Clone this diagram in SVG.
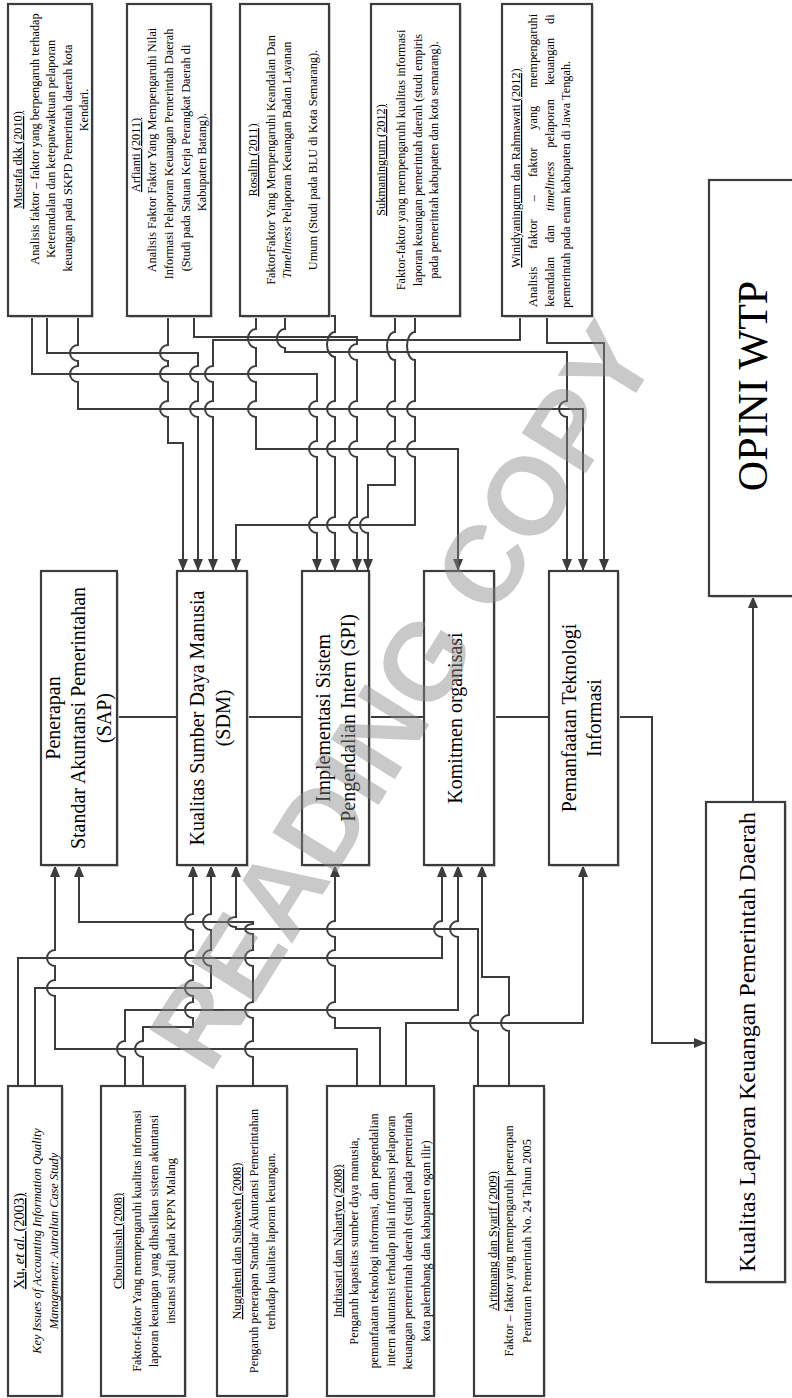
<svg xmlns="http://www.w3.org/2000/svg" width="792" height="1398" viewBox="0 0 792 1398">
<defs>
<marker id="arr" markerUnits="userSpaceOnUse" markerWidth="12" markerHeight="10" refX="12" refY="5" orient="auto">
<path d="M0,0 L12,5 L0,10 z" fill="#3c3c3c"/>
</marker>
</defs>
<style>
.box{fill:#fff;stroke:#3c3c3c;stroke-width:2.2}
.sh{fill:#d6d6d6}
.ln{fill:none;stroke:#3c3c3c;stroke-width:2;marker-end:url(#arr)}
.pl{fill:none;stroke:#3c3c3c;stroke-width:2}
text{font-family:"Liberation Serif","Times New Roman",serif;fill:#000}
.s{font-size:12.3px}
.t{font-size:12.3px;text-decoration:underline}
.m{font-size:20px}
.wm{font-family:"Liberation Sans",Arial,sans-serif;font-weight:bold;font-size:110px;fill:#888;opacity:0.45}
</style>
<rect width="792" height="1398" fill="#fff"/>

<g id="connectors">
<path class="ln" d="M32 316 V374 H317 V401 a8 8 0 0 0 0 16 V441 a8 8 0 0 0 0 16 V517 a8 8 0 0 0 0 16 V571"/>
<path class="ln" d="M47 316 V353 H198 V366 a8 8 0 0 0 0 16 V401 a8 8 0 0 0 0 16 V571"/>
<path class="ln" d="M78 316 V345 a8 8 0 0 0 0 16 V366 a8 8 0 0 0 0 16 V409 H583 V571"/>
<path class="ln" d="M168 316 V345 a8 8 0 0 0 0 16 V366 a8 8 0 0 0 0 16 V401 a8 8 0 0 0 0 16 V443 H183 V571"/>
<path class="ln" d="M194 316 V337 H357 V344 a8 8 0 0 0 0 16 V401 a8 8 0 0 0 0 16 V441 a8 8 0 0 0 0 16 V517 a8 8 0 0 0 0 16 V571"/>
<path class="ln" d="M520 316 V340 H213 V366 a8 8 0 0 0 0 16 V401 a8 8 0 0 0 0 16 V571"/>
<path class="ln" d="M547 316 V343 H604 V571"/>
<path class="ln" d="M256 316 V329 a8 9.5 0 0 0 0 19 V366 a8 8 0 0 0 0 16 V401 a8 8 0 0 0 0 16 V449 H458 V571"/>
<path class="ln" d="M285 316 V329 a8 9.5 0 0 0 0 19 V352 H567 V401 a8 8 0 0 0 0 16 V571"/>
<path class="ln" d="M329 316 H335 V332 a8 12.5 0 0 0 0 25 V401 a8 8 0 0 0 0 16 V441 a8 8 0 0 0 0 16 V517 a8 8 0 0 0 0 16 V571"/>
<path class="ln" d="M395 316 V332 a8 14 0 0 0 0 28 V401 a8 8 0 0 0 0 16 V441 a8 8 0 0 0 0 16 V485 H368 V517 a8 8 0 0 0 0 16 V571"/>
<path class="ln" d="M415 316 V332 a8 14 0 0 0 0 28 V401 a8 8 0 0 0 0 16 V441 a8 8 0 0 0 0 16 V525 H236 V571"/>

<path class="ln" d="M18 1086 V958 H442 V937 a8 8 0 0 1 0 -16 V865"/>
<path class="ln" d="M35 1086 V988 H211 V966 a8 8 0 0 1 0 -16 V930 a8 8 0 0 1 0 -16 V865"/>
<path class="ln" d="M125 1086 V1057 a8 8 0 0 1 0 -16 V1010 H458 V937 a8 8 0 0 1 0 -16 V865"/>
<path class="ln" d="M143 1086 V1057 a8 8 0 0 1 0 -16 V1027 H193 V1018 a8 8 0 0 1 0 -16 V996 a8 8 0 0 1 0 -16 V966 a8 8 0 0 1 0 -16 V930 a8 8 0 0 1 0 -16 V865"/>
<path class="ln" d="M253 1086 V1057 a8 8 0 0 1 0 -16 V1018 a8 8 0 0 1 0 -16 V966 a8 8 0 0 1 0 -16 V934 a8 5 0 0 1 0 -10 V922 H79 V865"/>
<path class="ln" d="M357 1086 V1049 H55 V996 a8 8 0 0 1 0 -16 V966 a8 8 0 0 1 0 -16 V865"/>
<path class="ln" d="M380 1086 V1028 H335 V1018 a8 8 0 0 1 0 -16 V966 a8 8 0 0 1 0 -16 V937 a8 8 0 0 1 0 -16 V865"/>
<path class="ln" d="M406 1086 V1023 H583 V865"/>
<path class="ln" d="M478 1086 V1031 a8 8 0 0 1 0 -16 V929 H236 V927 a8 5 0 0 1 0 -10 V865"/>
<path class="ln" d="M509 1086 V1031 a8 8 0 0 1 0 -16 V977 H482 V865"/>

<path class="pl" d="M117 717 H177 M247 717 H302 M369 717 H424 M494 717 H549"/>
<path class="ln" d="M618 717 H652 V1043 H706"/>
<path class="ln" d="M753 802 V596"/>
</g>

<g id="n-mustafa">
<rect class="sh" x="10" y="6" width="84" height="312"/>
<rect class="box" x="8" y="4" width="84" height="312"/>
<g transform="rotate(-90)">
<text class="t" x="-160" y="22" text-anchor="middle">Mustafa dkk (2010)</text>
<text class="s" x="-139" y="39" text-anchor="middle">Analisis faktor – faktor yang berpengaruh terhadap</text>
<text class="s" x="-149" y="55" text-anchor="middle">Keterandalan dan ketepatwaktuan pelaporan</text>
<text class="s" x="-158" y="72" text-anchor="middle">keuangan pada SKPD Pemerintah daerah kota</text>
<text class="s" x="-110" y="88" text-anchor="middle">Kendari.</text>
</g>
</g>

<g id="n-arfianti">
<rect class="sh" x="129" y="6" width="84" height="312"/>
<rect class="box" x="127" y="4" width="84" height="312"/>
<g transform="rotate(-90)">
<text class="t" x="-155" y="140" text-anchor="middle">Arfianti (2011)</text>
<text class="s" x="-150" y="156" text-anchor="middle">Analisis Faktor Faktor Yang Mempengaruhi Nilai</text>
<text class="s" x="-154" y="173" text-anchor="middle">Informasi Pelaporan Keuangan Pemerintah Daerah</text>
<text class="s" x="-158" y="190" text-anchor="middle">(Studi pada Satuan Kerja Perangkat Daerah di</text>
<text class="s" x="-162" y="206" text-anchor="middle">Kabupaten Batang).</text>
</g>
</g>

<g id="n-rosalin">
<rect class="sh" x="242" y="6" width="89" height="312"/>
<rect class="box" x="240" y="4" width="89" height="312"/>
<g transform="rotate(-90)">
<text class="t" x="-160" y="257" text-anchor="middle">Rosalin (2011)</text>
<text class="s" x="-160" y="275" text-anchor="middle">FaktorFaktor Yang Mempengaruhi Keandalan Dan</text>
<text class="s" x="-160" y="291" text-anchor="middle"><tspan font-style="italic">Timeliness</tspan> Pelaporan Keuangan Badan Layanan</text>
<text class="s" x="-160" y="317" text-anchor="middle">Umum (Studi pada BLU di Kota Semarang).</text>
</g>
</g>

<g id="n-sukmaningrum">
<rect class="sh" x="373" y="6" width="89" height="312"/>
<rect class="box" x="371" y="4" width="89" height="312"/>
<g transform="rotate(-90)">
<text class="t" x="-160" y="385" text-anchor="middle">Sukmaningrum (2012)</text>
<text class="s" x="-160" y="405" text-anchor="middle">Faktor-faktor yang mempengaruhi kualitas informasi</text>
<text class="s" x="-160" y="422" text-anchor="middle">laporan keuangan pemerintah daerah (studi empiris</text>
<text class="s" x="-160" y="438" text-anchor="middle">pada pemerintah kabupaten dan kota semarang).</text>
</g>
</g>

<g id="n-winidyaningrum">
<rect class="sh" x="504" y="6" width="90" height="312"/>
<rect class="box" x="502" y="4" width="90" height="312"/>
<g transform="rotate(-90)">
<text class="t" x="-168" y="520" text-anchor="middle">Winidyaningrum dan Rahmawati (2012)</text>
<text class="s" x="-160.5" y="537" text-anchor="middle" word-spacing="15">Analisis faktor – faktor yang mempengaruhi</text>
<text class="s" x="-160.5" y="554" text-anchor="middle" word-spacing="11">keandalan dan <tspan font-style="italic">timeliness</tspan> pelaporan keuangan di</text>
<text class="s" x="-308" y="570">pemerintah pada enam kabupaten di Jawa Tengah.</text>
</g>
</g>

<g id="n-sap">
<rect class="sh" x="43" y="573" width="76" height="294"/>
<rect class="box" x="41" y="571" width="76" height="294"/>
<g transform="rotate(-90)">
<text class="m" x="-718" y="60" text-anchor="middle">Penerapan</text>
<text class="m" x="-718" y="85" text-anchor="middle">Standar Akuntansi Pemerintahan</text>
<text class="m" x="-718" y="111" text-anchor="middle">(SAP)</text>
</g>
</g>

<g id="n-sdm">
<rect class="sh" x="179" y="573" width="70" height="294"/>
<rect class="box" x="177" y="571" width="70" height="294"/>
<g transform="rotate(-90)">
<text class="m" x="-718" y="204" text-anchor="middle">Kualitas Sumber Daya Manusia</text>
<text class="m" x="-718" y="230" text-anchor="middle">(SDM)</text>
</g>
</g>

<g id="n-spi">
<rect class="sh" x="304" y="573" width="67" height="294"/>
<rect class="box" x="302" y="571" width="67" height="294"/>
<g transform="rotate(-90)">
<text class="m" x="-718" y="330" text-anchor="middle">Implementasi Sistem</text>
<text class="m" x="-718" y="355" text-anchor="middle">Pengendalian Intern (SPI)</text>
</g>
</g>

<g id="n-komitmen">
<rect class="sh" x="426" y="573" width="70" height="294"/>
<rect class="box" x="424" y="571" width="70" height="294"/>
<g transform="rotate(-90)">
<text class="m" x="-718" y="462" text-anchor="middle">Komitmen organisasi</text>
</g>
</g>

<g id="n-ti">
<rect class="sh" x="551" y="573" width="69" height="294"/>
<rect class="box" x="549" y="571" width="69" height="294"/>
<g transform="rotate(-90)">
<text class="m" x="-718" y="576" text-anchor="middle">Pemanfaatan Teknologi</text>
<text class="m" x="-718" y="601" text-anchor="middle">Informasi</text>
</g>
</g>

<g id="n-lkpd">
<rect class="sh" x="708" y="804" width="79" height="480"/>
<rect class="box" x="706" y="802" width="79" height="480"/>
<g transform="rotate(-90)">
<text x="-1042" y="755" text-anchor="middle" font-size="24">Kualitas Laporan Keuangan Pemerintah Daerah</text>
</g>
</g>

<g id="n-opini">
<rect class="sh" x="711" y="182" width="95" height="416"/>
<rect class="box" x="709" y="180" width="95" height="416"/>
<g transform="rotate(-90)">
<text x="-386" y="767" text-anchor="middle" font-size="42">OPINI WTP</text>
</g>
</g>

<g id="n-xu">
<rect class="sh" x="10" y="1088" width="54" height="308"/>
<rect class="box" x="8" y="1086" width="54" height="310"/>
<g transform="rotate(-90)">
<text x="-1241" y="24" text-anchor="middle" font-size="14.5" text-decoration="underline">Xu, <tspan font-style="italic">et al.</tspan> (2003)</text>
<text class="s" x="-1241" y="41" text-anchor="middle" font-style="italic">Key Issues of Accounting Information Quality</text>
<text class="s" x="-1241" y="58" text-anchor="middle" font-style="italic">Management: Autralian Case Study</text>
</g>
</g>

<g id="n-choirunisah">
<rect class="sh" x="103" y="1088" width="84" height="308"/>
<rect class="box" x="101" y="1086" width="84" height="310"/>
<g transform="rotate(-90)">
<text class="t" x="-1241" y="122" text-anchor="middle">Choirunisah (2008)</text>
<text class="s" x="-1241" y="141" text-anchor="middle">Faktor-faktor Yang mempengaruhi kualitas informasi</text>
<text class="s" x="-1241" y="158" text-anchor="middle">laporan keuangan yang dihasilkan sistem akuntansi</text>
<text class="s" x="-1241" y="175" text-anchor="middle">instansi studi pada KPPN Malang</text>
</g>
</g>

<g id="n-nugraheni">
<rect class="sh" x="219" y="1088" width="70" height="308"/>
<rect class="box" x="217" y="1086" width="70" height="310"/>
<g transform="rotate(-90)">
<text class="t" x="-1241" y="241" text-anchor="middle">Nugraheni dan Subaweh (2008)</text>
<text class="s" x="-1241" y="258" text-anchor="middle">Pengaruh penerapan Standar Akuntansi Pemerintahan</text>
<text class="s" x="-1241" y="275" text-anchor="middle">terhadap kualitas laporan keuangan.</text>
</g>
</g>

<g id="n-indriasari">
<rect class="sh" x="329" y="1088" width="107" height="308"/>
<rect class="box" x="327" y="1086" width="107" height="310"/>
<g transform="rotate(-90)">
<text class="t" x="-1241" y="342" text-anchor="middle">Indriasari dan Nahartyo (2008)</text>
<text class="s" x="-1241" y="358" text-anchor="middle">Pengaruh kapasitas sumber daya manusia,</text>
<text class="s" x="-1241" y="378" text-anchor="middle">pemanfaatan teknologi informasi, dan pengendalian</text>
<text class="s" x="-1241" y="395" text-anchor="middle">intern akuntansi terhadap nilai informasi pelaporan</text>
<text class="s" x="-1241" y="412" text-anchor="middle">keuangan pemerintah daerah (studi pada pemerintah</text>
<text class="s" x="-1241" y="430" text-anchor="middle">kota palembang dan kabupaten ogan ilir)</text>
</g>
</g>

<g id="n-aritonang">
<rect class="sh" x="476" y="1088" width="70" height="308"/>
<rect class="box" x="474" y="1086" width="70" height="310"/>
<g transform="rotate(-90)">
<text class="t" x="-1241" y="497" text-anchor="middle">Aritonang dan Syarif (2009)</text>
<text class="s" x="-1241" y="513" text-anchor="middle">Faktor – faktor yang mempengaruhi penerapan</text>
<text class="s" x="-1241" y="531" text-anchor="middle">Peraturan Pemerintah No. 24 Tahun 2005</text>
</g>
</g>

<text class="wm" transform="translate(410 700) rotate(-58)" text-anchor="middle" dominant-baseline="middle">READING COPY</text>
</svg>
